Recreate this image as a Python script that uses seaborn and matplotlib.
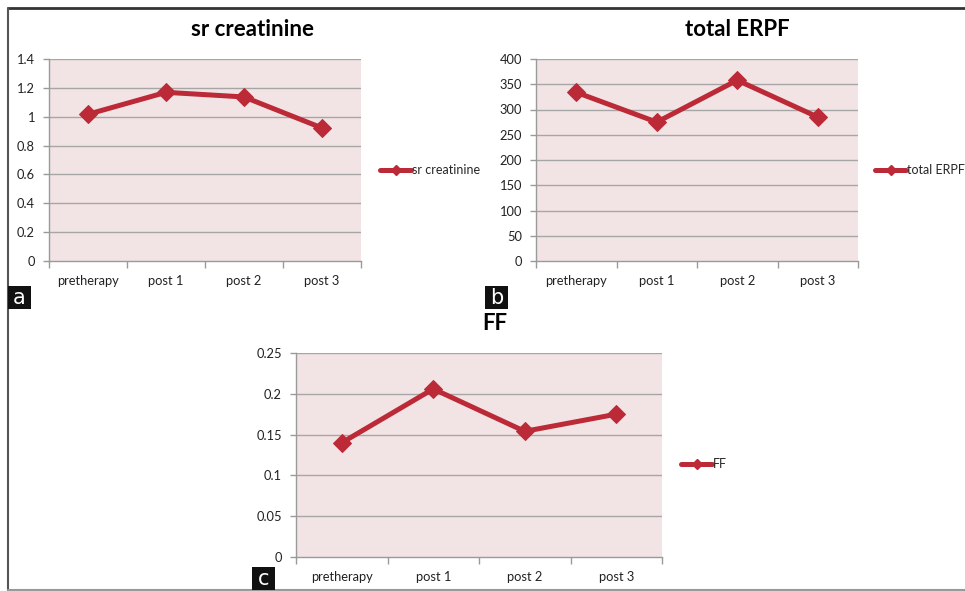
import matplotlib
matplotlib.use("Agg")
import matplotlib.pyplot as plt
from matplotlib.lines import Line2D
from matplotlib.patches import Rectangle
import seaborn as sns
import pandas as pd

sns.set_theme(style="white")
plt.rcParams["font.family"] = ["Lato", "DejaVu Sans"]

phases = ["pretherapy", "post 1", "post 2", "post 3"]
sr_creatinine = [1.017, 1.169, 1.137, 0.922]
total_erpf = [334, 275, 358, 285]
ff = [0.140, 0.206, 0.154, 0.175]

LINE = "#BC2937"
PLOT_BG = "#F2E4E5"
GRID = "#A6A6A6"
AXIS = "#9A9A9A"

fig = plt.figure(figsize=(9.65, 5.91), dpi=100)
fig.patch.set_facecolor("white")


def panel(rect, values, name, yticks, yfmt, title_xy, legend_xy, tag, tag_xy):
    ax = fig.add_axes(rect)
    df = pd.DataFrame({"phase": phases, "value": values})
    df["x"] = range(len(phases))
    sns.lineplot(data=df, x="x", y="value", ax=ax, color=LINE, linewidth=3.6,
                 marker="D", markersize=9, markeredgecolor=LINE, sort=False)
    ax.set_facecolor(PLOT_BG)
    ax.set_xlim(-0.5, len(phases) - 0.5)
    ax.set_ylim(yticks[0], yticks[-1])
    ax.set_yticks(yticks)
    ax.set_yticklabels([yfmt(v) for v in yticks], fontsize=9.3, color="#222222")
    ax.set_xticks([i - 0.5 for i in range(len(phases) + 1)])
    ax.set_xticklabels([])
    ax.set_xticks(range(len(phases)), minor=True)
    ax.set_xticklabels(phases, minor=True, fontsize=9.3, color="#222222")
    ax.tick_params(axis="x", which="major", direction="out", length=5,
                   color=AXIS, width=1, bottom=True)
    ax.tick_params(axis="x", which="minor", length=0, pad=10)
    ax.tick_params(axis="y", direction="out", length=4, color=AXIS,
                   width=1, left=True, pad=6)
    ax.set_xlabel("")
    ax.set_ylabel("")
    for y in yticks[1:]:
        ax.axhline(y, color=GRID, linewidth=1.0, zorder=1)
    for side in ("top", "right"):
        ax.spines[side].set_visible(False)
    for side in ("left", "bottom"):
        ax.spines[side].set_visible(True)
        ax.spines[side].set_color(AXIS)
        ax.spines[side].set_linewidth(1.0)
    fig.text(title_xy[0] / 965, 1 - title_xy[1] / 591, name, fontsize=16,
             fontweight="bold", ha="center", va="center", color="black")
    handle = Line2D([], [], color=LINE, linewidth=3.6, marker="D",
                    markersize=5, markeredgecolor=LINE)
    fig.legend([handle], [name], loc="center left", frameon=False,
               bbox_to_anchor=(legend_xy[0] / 965, 1 - legend_xy[1] / 591),
               fontsize=9, handlelength=2.5, handletextpad=0.05,
               borderaxespad=0, borderpad=0)
    x0, y0 = tag_xy
    fig.patches.append(Rectangle((x0 / 965, 1 - (y0 + 23) / 591), 23 / 965, 23 / 591,
                                 transform=fig.transFigure, facecolor="#111111",
                                 edgecolor="none", zorder=5))
    fig.text((x0 + 11.5) / 965, 1 - (y0 + 12) / 591, tag, color="white",
             fontsize=15, ha="center", va="center", zorder=6,
             family=["DejaVu Sans"])
    return ax


panel([49 / 965, 1 - 261 / 591, 312 / 965, 202 / 591], sr_creatinine,
      "sr creatinine", [0, 0.2, 0.4, 0.6, 0.8, 1.0, 1.2, 1.4],
      lambda v: f"{v:g}", (252, 29), (380, 170), "a", (8, 286))
panel([536 / 965, 1 - 261 / 591, 322 / 965, 202 / 591], total_erpf,
      "total ERPF", [0, 50, 100, 150, 200, 250, 300, 350, 400],
      lambda v: f"{v:g}", (737, 29), (875, 170), "b", (485, 286))
panel([296 / 965, 1 - 557 / 591, 366 / 965, 204 / 591], ff,
      "FF", [0, 0.05, 0.1, 0.15, 0.2, 0.25],
      lambda v: f"{v:g}", (495, 323), (681, 464), "c", (252, 567))

# outer frame
fig.add_artist(Line2D([8 / 965, 1], [1 - 8 / 591, 1 - 8 / 591],
                      transform=fig.transFigure, color="#333333", linewidth=2))
fig.add_artist(Line2D([8 / 965, 8 / 965], [1 - 8 / 591, 1 - 590 / 591],
                      transform=fig.transFigure, color="#555555", linewidth=1.5))
fig.add_artist(Line2D([8 / 965, 1], [1 - 590 / 591, 1 - 590 / 591],
                      transform=fig.transFigure, color="#999999", linewidth=1.5))

fig.savefig("out.png", dpi=100, facecolor="white")
